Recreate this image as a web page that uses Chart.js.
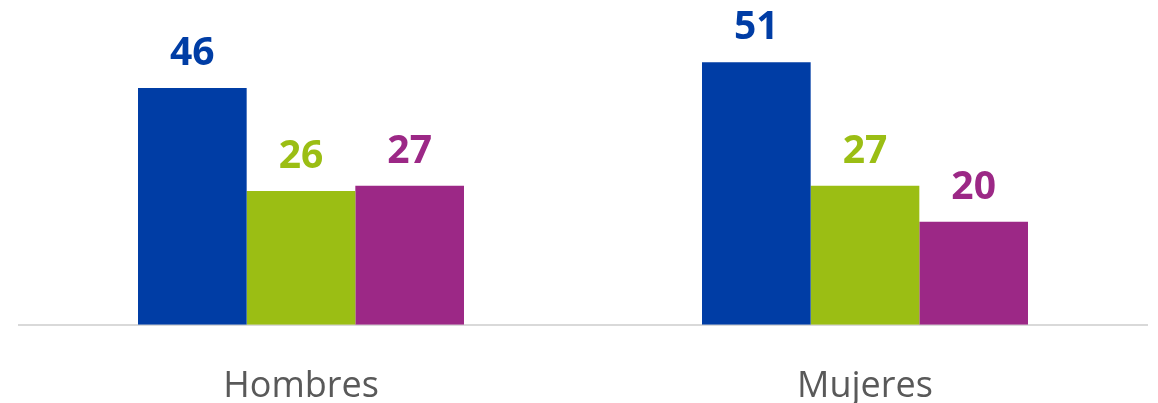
<!DOCTYPE html>
<html>
<head>
<meta charset="utf-8">
<script src="https://cdn.jsdelivr.net/npm/chart.js@4.4.0/dist/chart.umd.min.js"></script>
<style>
  html, body { margin: 0; padding: 0; background: #ffffff; }
  #wrap { width: 1158px; height: 403px; position: relative; }
</style>
</head>
<body>
<div id="wrap"><canvas id="c" width="1158" height="403"></canvas></div>
<script>
const categories = ["Hombres", "Mujeres"];
const seriesA = [46, 51];
const seriesB = [26, 27];
const seriesC = [27, 20];
const seriesColors = ["#003DA5", "#9BBE14", "#9C2886"];

const labelPlugin = {
  id: 'valueLabels',
  afterDatasetsDraw(chart) {
    const ctx = chart.ctx;
    ctx.save();
    ctx.font = 'bold 39px "Open Sans"';
    ctx.textAlign = 'center';
    ctx.textBaseline = 'alphabetic';
    chart.data.datasets.forEach((ds, i) => {
      const meta = chart.getDatasetMeta(i);
      meta.data.forEach((bar, j) => {
        ctx.fillStyle = ds.backgroundColor;
        ctx.fillText(String(ds.data[j]), bar.x, bar.y - 23);
      });
    });
    ctx.restore();
  }
};

new Chart(document.getElementById('c'), {
  type: 'bar',
  data: {
    labels: categories,
    datasets: [
      { data: seriesA, backgroundColor: seriesColors[0] },
      { data: seriesB, backgroundColor: seriesColors[1] },
      { data: seriesC, backgroundColor: seriesColors[2] }
    ]
  },
  options: {
    responsive: false,
    animation: false,
    devicePixelRatio: 1,
    layout: { padding: { left: 19, right: 11, top: 16, bottom: -45 } },
    plugins: { legend: { display: false }, tooltip: { enabled: false } },
    datasets: { bar: { categoryPercentage: 0.578, barPercentage: 1.0 } },
    scales: {
      x: {
        grid: { display: false, drawTicks: false },
        border: { display: true, color: '#d9d9d9', width: 2 },
        ticks: { color: '#595959', font: { family: '"Open Sans"', size: 36 }, padding: 40 }
      },
      y: {
        display: false,
        min: 0,
        max: 60
      }
    }
  },
  plugins: [labelPlugin]
});
</script>
</body>
</html>
